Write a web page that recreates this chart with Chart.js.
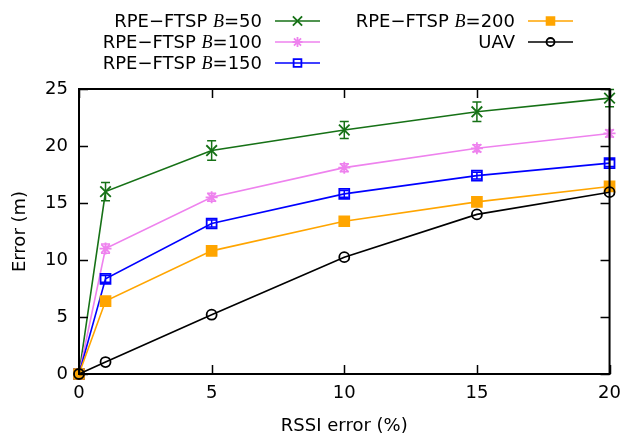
<!DOCTYPE html>
<html>
<head>
<meta charset="utf-8">
<script src="https://cdn.jsdelivr.net/npm/chart.js@4.4.1/dist/chart.umd.min.js"></script>
<style>
  html, body { margin: 0; padding: 0; background: #fff; }
  #wrap { width: 630px; height: 437px; }
</style>
</head>
<body>
<div id="wrap"><canvas id="c" width="630" height="437"></canvas></div>
<script>
// RSSI error (%) on the x axis
const rssiError = [0, 1, 5, 10, 15, 20];

// localisation error (m) per curve
const errB50  = [0, 16.0, 19.6, 21.4, 23.0, 24.2];
const errB100 = [0, 11.0, 15.5, 18.1, 19.8, 21.1];
const errB150 = [0, 8.35, 13.2, 15.8, 17.4, 18.5];
const errB200 = [0, 6.4, 10.8, 13.4, 15.1, 16.45];
const errUAV  = [0, 1.05, 5.2, 10.25, 14.0, 15.95];

// half-widths of the error bars
const devB50  = [0, 0.8, 0.85, 0.75, 0.85, 0.75];
const devB100 = [0, 0.4, 0.35, 0.35, 0.3, 0.3];
const devB150 = [0, 0.3, 0.3, 0.3, 0.3, 0.3];

const xTicks = [0, 5, 10, 15, 20];
const yTicks = [0, 5, 10, 15, 20, 25];

const FONT = '"DejaVu Sans", sans-serif';
const FSIZE = 18;

function pts(ys) {
    return rssiError.map((x, i) => ({ x: x, y: ys[i] }));
}

const series = [
    { name: '50',  data: errB50,  dev: devB50,  color: '#167116', style: 'crossRot', radius: 7.5, fill: '#167116', order: 5 },
    { name: '100', data: errB100, dev: devB100, color: '#ee82ee', style: 'star',     radius: 6,   fill: '#ee82ee', order: 4 },
    { name: '150', data: errB150, dev: devB150, color: '#0000ff', style: 'rect',     radius: 7,   fill: 'rgba(0,0,0,0)', order: 3 },
    { name: '200', data: errB200, dev: null,    color: '#ffa500', style: 'rect',     radius: 7,   fill: '#ffa500', order: 2 },
    { name: 'UAV', data: errUAV,  dev: null,    color: '#000000', style: 'circle',   radius: 5,   fill: 'rgba(0,0,0,0)', order: 1 }
];

// error bars, inward ticks on all four sides, frame box and the legend
const gnuplotLook = {
    id: 'gnuplotLook',
    beforeDatasetsDraw(chart) {
        const ctx = chart.ctx;
        const xs = chart.scales.x, ys = chart.scales.y;
        ctx.save();
        series.forEach(s => {
            if (!s.dev) return;
            ctx.strokeStyle = s.color;
            ctx.lineWidth = 1.5;
            rssiError.forEach((x, i) => {
                if (!s.dev[i]) return;
                const px = xs.getPixelForValue(x);
                const top = ys.getPixelForValue(s.data[i] + s.dev[i]);
                const bot = ys.getPixelForValue(s.data[i] - s.dev[i]);
                ctx.beginPath();
                ctx.moveTo(px, top); ctx.lineTo(px, bot);
                ctx.moveTo(px - 4.5, top); ctx.lineTo(px + 4.5, top);
                ctx.moveTo(px - 4.5, bot); ctx.lineTo(px + 4.5, bot);
                ctx.stroke();
            });
        });
        ctx.restore();
    },
    afterDraw(chart) {
        const ctx = chart.ctx;
        const a = chart.chartArea;
        const xs = chart.scales.x, ys = chart.scales.y;
        const tick = 9;
        ctx.save();
        ctx.strokeStyle = '#000';
        ctx.lineWidth = 1.5;
        ctx.beginPath();
        xTicks.forEach(v => {
            const px = Math.round(xs.getPixelForValue(v)) + 0.5;
            ctx.moveTo(px, a.bottom); ctx.lineTo(px, a.bottom - tick);
            ctx.moveTo(px, a.top); ctx.lineTo(px, a.top + tick);
        });
        yTicks.forEach(v => {
            const py = Math.round(ys.getPixelForValue(v)) + 0.5;
            ctx.moveTo(a.left, py); ctx.lineTo(a.left + tick, py);
            ctx.moveTo(a.right, py); ctx.lineTo(a.right - tick, py);
        });
        ctx.stroke();
        ctx.lineWidth = 2;
        ctx.strokeRect(a.left, a.top, a.right - a.left, a.bottom - a.top);

        // legend, two columns, label right-aligned against the sample line
        const cols = [
            { textRight: 262, lineL: 275, lineR: 320 },
            { textRight: 515, lineL: 528, lineR: 573 }
        ];
        const rowY = [21, 42, 63];
        const slots = [[0, 0], [0, 1], [0, 2], [1, 0], [1, 1]];
        const plain = FSIZE + 'px ' + FONT;
        const ital = 'italic ' + FSIZE + 'px "Liberation Serif", "DejaVu Serif", serif';
        ctx.textBaseline = 'middle';
        series.forEach((s, k) => {
            const col = cols[slots[k][0]];
            const y = rowY[slots[k][1]];
            const parts = s.name === 'UAV'
                ? [['UAV', plain]]
                : [['RPE\u2212FTSP ', plain], ['B', ital], ['=' + s.name, plain]];
            let w = 0;
            parts.forEach(p => { ctx.font = p[1]; w += ctx.measureText(p[0]).width; });
            let x = col.textRight - w;
            ctx.fillStyle = '#000';
            ctx.textAlign = 'left';
            parts.forEach(p => { ctx.font = p[1]; ctx.fillText(p[0], x, y + 1); x += ctx.measureText(p[0]).width; });
            ctx.strokeStyle = s.color;
            ctx.lineWidth = 1.5;
            ctx.beginPath();
            ctx.moveTo(col.lineL, y); ctx.lineTo(col.lineR, y);
            ctx.stroke();
            const cx = (col.lineL + col.lineR) / 2;
            ctx.fillStyle = s.fill;
            ctx.strokeStyle = s.color;
            ctx.lineWidth = 1.8;
            const r = s.style === 'rect' ? s.radius - 1.5 : s.radius - 1;
            Chart.helpers.drawPoint(ctx, { pointStyle: s.style, radius: r, borderWidth: 1.8, rotation: 0 }, cx, y);
        });
        ctx.restore();
    }
};

const tickFont = { family: FONT, size: FSIZE };

new Chart(document.getElementById('c'), {
    type: 'line',
    data: {
        datasets: series.map(s => ({
            label: s.name,
            data: pts(s.data),
            borderColor: s.color,
            backgroundColor: s.fill,
            borderWidth: 1.6,
            pointStyle: s.style,
            pointRadius: s.radius,
            pointBorderWidth: 1.8,
            pointBorderColor: s.color,
            pointBackgroundColor: s.fill,
            tension: 0,
            fill: false,
            clip: false,
            order: s.order
        }))
    },
    options: {
        responsive: false,
        animation: false,
        devicePixelRatio: 1,
        layout: { padding: { top: 89, right: 17, left: 0, bottom: 0 } },
        plugins: {
            legend: { display: false },
            tooltip: { enabled: false }
        },
        scales: {
            x: {
                type: 'linear',
                min: 0, max: 20,
                afterFit(scale) { scale.height = 63; },
                afterBuildTicks(scale) { scale.ticks = xTicks.map(v => ({ value: v })); },
                grid: { display: false, drawTicks: false },
                border: { display: false },
                ticks: { color: '#000', font: tickFont, padding: 9, maxRotation: 0 },
                title: { display: true, text: 'RSSI error (%)', color: '#000', font: tickFont, padding: { top: 3, bottom: 0 } }
            },
            y: {
                type: 'linear',
                min: 0, max: 25,
                afterFit(scale) { scale.width = 79; },
                afterBuildTicks(scale) { scale.ticks = yTicks.map(v => ({ value: v })); },
                grid: { display: false, drawTicks: false },
                border: { display: false },
                ticks: { color: '#000', font: tickFont, padding: 11 },
                title: { display: true, text: 'Error (m)', color: '#000', font: tickFont, padding: { top: 10, bottom: 0 } }
            }
        }
    },
    plugins: [gnuplotLook]
});
</script>
</body>
</html>
